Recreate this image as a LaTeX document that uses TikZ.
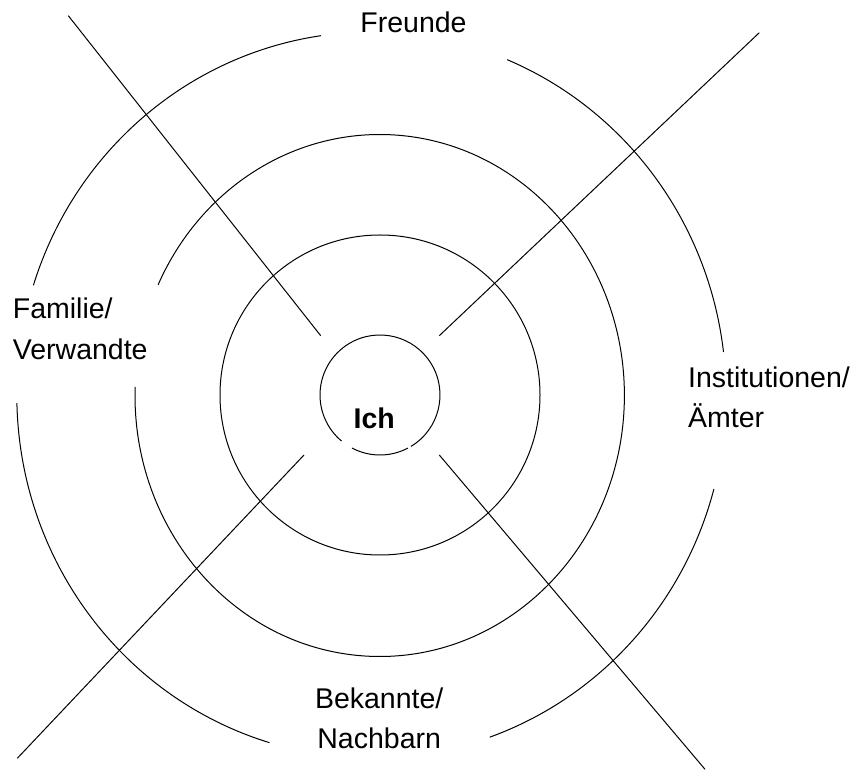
\documentclass[tikz,border=0pt]{standalone}
\usepackage{fontspec}
\setmainfont{Liberation Sans}
\begin{document}
\begin{tikzpicture}[x=1pt,y=1pt,
  ring/.style={draw=black, line width=1pt},
  ray/.style={draw=black, line width=1pt},
  lbl/.style={inner sep=0pt, font=\fontsize{28.5}{40}\selectfont},
  me/.style={inner sep=0pt, font=\fontsize{28.5}{34}\selectfont\bfseries}]
\useasboundingbox (0,0) rectangle (861,771);
% centres
\coordinate (c1) at (380,376);
\coordinate (c2) at (380,376);
\coordinate (c3) at (379.7,375.5);
\coordinate (c4) at (371.4,376);
% inner circle (two arcs, small gaps below)
\draw[ring] (c1) ++(301:60pt) arc[start angle=301, end angle=590.2, radius=60pt];
\draw[ring] (c1) ++(242.2:60pt) arc[start angle=242.2, end angle=297.8, radius=60pt];
% second circle
\draw[ring] (c2) circle[radius=160pt];
% third ring, gap on the left
\draw[ring] (c3) ++(178.1:244.7pt and 261pt) arc[start angle=178.1, end angle=514.9, x radius=244.7pt, y radius=261pt];
% outer ring, four arcs
\draw[ring] (c4) ++(6.8:354.6pt and 363pt) arc[start angle=6.8, end angle=67.5, x radius=354.6pt, y radius=363pt];
\draw[ring] (c4) ++(98.2:354.6pt and 363pt) arc[start angle=98.2, end angle=162.4, x radius=354.6pt, y radius=363pt];
\draw[ring] (c4) ++(181.3:354.6pt and 363pt) arc[start angle=181.3, end angle=253.3, x radius=354.6pt, y radius=363pt];
\draw[ring] (c4) ++(289.5:354.6pt and 363pt) arc[start angle=289.5, end angle=345, x radius=354.6pt, y radius=363pt];
% rays
\coordinate (nwo) at (68.3,755.3);  \coordinate (nwi) at (320.7,435.3);
\coordinate (neo) at (759.3,738.3); \coordinate (nei) at (439.3,435.3);
\coordinate (swo) at (17.3,12.7);   \coordinate (swi) at (304,316);
\coordinate (seo) at (705,1.7);     \coordinate (sei) at (439.3,316);
\draw[ray] (nwo) -- (nwi);
\draw[ray] (neo) -- (nei);
\draw[ray] (swo) -- (swi);
\draw[ray] (seo) -- (sei);
% labels (base anchor = baseline of the last line)
\node[me, anchor=base] (ich) at (374.3,342.7) {Ich};
\node[lbl, anchor=base] (freunde) at (413.5,738.3) {Freunde};
\node[lbl, font=\fontsize{28.5}{41.7}\selectfont, anchor=base west, align=left] (familie) at (12.7,411) {Familie/\\Verwandte};
\node[lbl, anchor=base west, align=left] (inst) at (688,343.7) {Institutionen/\\Ämter};
\node[lbl, anchor=base, align=center] (bek) at (379.2,22.7) {Bekannte/\\Nachbarn};
\end{tikzpicture}
\end{document}
